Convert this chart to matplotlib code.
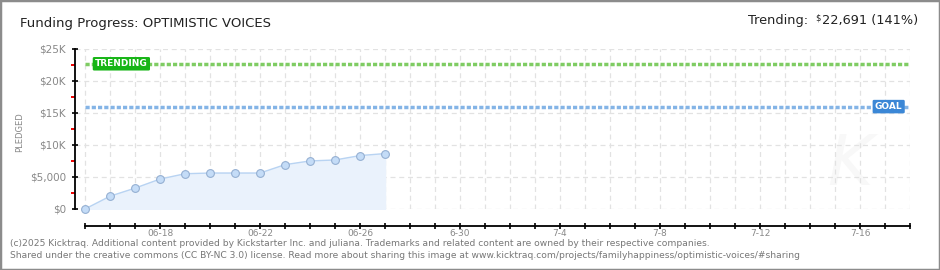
import datetime as dt

import matplotlib
matplotlib.use('Agg')
import matplotlib.pyplot as plt
from matplotlib.patches import Rectangle
from matplotlib.ticker import FixedLocator, FuncFormatter


start_date = dt.date(2025, 6, 15)
end_date = dt.date(2025, 7, 18)
pledged = [0, 2000, 3260, 4680, 5510, 5620, 5620, 5620, 6930, 7510, 7660, 8350, 8660]
goal = 16000
trending = 22691
y_ticks = [0, 5000, 10000, 15000, 20000, 25000]
y_labels = ['$0', '$5,000', '$10K', '$15K', '$20K', '$25K']
title = 'Funding Progress: OPTIMISTIC VOICES'
trend_parts = ['Trending: ', '$', '22,691 (141%)']
footer = ['(c)2025 Kicktraq. Additional content provided by Kickstarter Inc. and juliana. '
          'Trademarks and related content are owned by their respective companies.',
          'Shared under the creative commons (CC BY-NC 3.0) license. Read more about sharing '
          'this image at www.kicktraq.com/projects/familyhappiness/optimistic-voices/#sharing']

n_days = (end_date - start_date).days
days = list(range(len(pledged)))


def day_label(i):
	d = start_date + dt.timedelta(days=int(round(i)))
	if (int(round(i)) - 3) % 4 != 0:
		return ''
	if d.month == 6 and d.day < 30:
		return '{:02d}-{:02d}'.format(d.month, d.day)
	return '{}-{}'.format(d.month, d.day)


fig = plt.figure(figsize=(9.4, 2.7), dpi=100)
fig.patches.append(Rectangle((0, 0), 1, 1, transform=fig.transFigure, fill=False,
                             edgecolor='#8c8c8c', linewidth=2.5))
ax = fig.add_axes([75 / 940, 61 / 270, 835 / 940, 160 / 270])

ax.set_xlim(-0.4, n_days)
ax.set_ylim(0, 25000)

# faint watermark
ax.text(30.6, 6800, 'K', fontsize=50, color='#f8f8f8', fontstyle='italic', ha='center', va='center', zorder=0)

ax.fill_between(days, pledged, color='#eaf2fc', zorder=1)
ax.plot(days, pledged, color='#b8d3f2', linewidth=1, zorder=2)
ax.plot(days, pledged, 'o', markersize=5.6, markerfacecolor='#c4dcf7',
        markeredgecolor='#95b0d2', markeredgewidth=0.8, clip_on=False, zorder=3)

ax.hlines(trending, 0, n_days, colors='#7fcc63', linestyles=(0, (1.2, 0.6)), linewidth=2.5, zorder=2)
ax.hlines(goal, 0, n_days, colors='#84b4e6', linestyles=(0, (1.2, 0.6)), linewidth=2.5, zorder=2)
ax.text(0.4, trending, 'TRENDING', color='white', fontsize=6.5, fontweight='bold', ha='left', va='center',
        bbox=dict(boxstyle='round,pad=0.25,rounding_size=0.15', facecolor='#17b516', edgecolor='none'), zorder=4)
ax.text(32.7, goal, 'GOAL', color='white', fontsize=6.5, fontweight='bold', ha='right', va='center',
        bbox=dict(boxstyle='round,pad=0.25,rounding_size=0.15', facecolor='#3b87d6', edgecolor='none'), zorder=4)

ax.xaxis.set_major_locator(FixedLocator(list(range(n_days + 1))))
ax.xaxis.set_major_formatter(FuncFormatter(lambda v, p: day_label(v)))
ax.yaxis.set_major_locator(FixedLocator(y_ticks))
ax.yaxis.set_minor_locator(FixedLocator([2500, 7500, 12500, 17500, 22500]))
ax.set_yticklabels(y_labels)

ax.grid(True, which='major', color='#e2e2e2', linestyle=(0, (4, 3)), linewidth=0.9)
ax.set_axisbelow(True)

for side in ['top', 'right']:
	ax.spines[side].set_visible(False)
ax.spines['left'].set_bounds(0, 25000)
ax.spines['bottom'].set_position(('outward', 12))
ax.spines['bottom'].set_bounds(0, n_days)
ax.spines['left'].set_linewidth(1.3)
ax.spines['bottom'].set_linewidth(1.3)

ax.tick_params(axis='x', direction='inout', length=4, width=1.2, labelsize=6.5, labelcolor='#888888', pad=0.5)
ax.tick_params(axis='y', which='major', direction='inout', length=5, width=1.2, labelsize=7.5,
               labelcolor='#888888', pad=4)
ax.tick_params(axis='y', which='minor', direction='out', length=3, width=1.4, color='#ee0000')
fig.text(20 / 940, 1 - 132 / 270, 'PLEDGED', fontsize=6, color='#888888', rotation=90,
         ha='center', va='center')

fig.text(20 / 940, 1 - 24 / 270, title, fontsize=9.5, color='#222222', va='center', ha='left')

# right-hand trending summary, assembled right to left
renderer = fig.canvas.get_renderer()
x_right = 918
t3 = fig.text(x_right / 940, 1 - 21 / 270, trend_parts[2], fontsize=9.3, color='#222222', va='center', ha='right')
w3 = t3.get_window_extent(renderer).width
t2 = fig.text((x_right - w3 - 1) / 940, 1 - 18 / 270, trend_parts[1], fontsize=6, color='#222222',
              va='center', ha='right')
w2 = t2.get_window_extent(renderer).width
fig.text((x_right - w3 - w2 - 4) / 940, 1 - 21 / 270, trend_parts[0], fontsize=9.3, color='#222222',
         va='center', ha='right')

fig.text(10 / 940, 1 - 243 / 270, footer[0], fontsize=6.6, color='#777777', va='center', ha='left')
fig.text(10 / 940, 1 - 256 / 270, footer[1], fontsize=6.6, color='#777777', va='center', ha='left')

fig.savefig('out.png', dpi=100)
